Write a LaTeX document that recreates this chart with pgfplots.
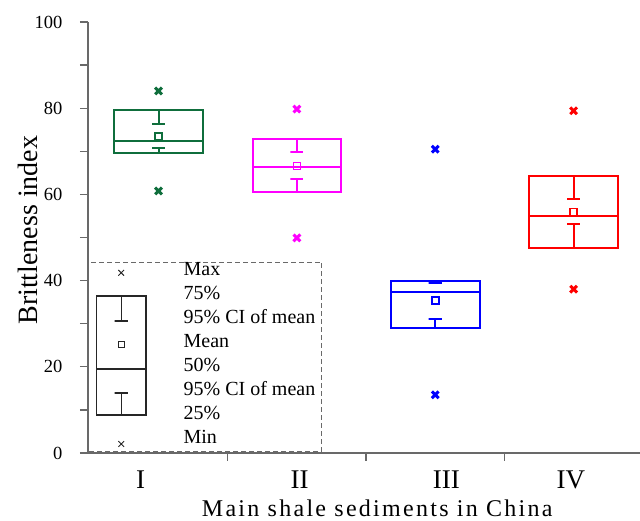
\documentclass[border=0pt]{standalone}
\usepackage{fontspec}
\setmainfont{Liberation Serif}
\usepackage{pgfplots}
\pgfplotsset{compat=1.18}

\definecolor{cI}{RGB}{15,110,60}
\definecolor{cII}{RGB}{255,0,255}
\definecolor{cIII}{RGB}{0,0,255}
\definecolor{cIV}{RGB}{255,0,0}
\definecolor{axgray}{RGB}{105,105,105}

\newcommand{\legfont}{\fontsize{20pt}{22pt}\selectfont}

\pgfplotsset{
  bx/.style={line width=2pt, line join=miter, mark=none},
  mn/.style={only marks, mark=square, mark size=3.5pt, line width=1.8pt},
  mx/.style={only marks, mark=x, mark size=4.8pt, line width=3pt},
  lbx/.style={black!85, line width=1.3pt, line join=miter, mark=none},
}

\begin{document}
\begin{tikzpicture}
\begin{axis}[
  scale only axis, width=552pt, height=431pt,
  xmin=0.49, xmax=4.48, ymin=0, ymax=100,
  clip=false,
  axis lines=left,
  axis line style={-, draw=axgray, line width=1.3pt},
  xtick={1.5,2.5,3.5}, xticklabels={},
  extra x ticks={0.87,2.02,3.08,3.98},
  extra x tick labels={I,II,III,IV},
  extra x tick style={tick style={draw=none}},
  ytick={0,20,...,100}, minor ytick={10,30,...,90},
  tick align=outside,
  major tick length=8pt, minor tick length=8pt,
  tick style={draw=axgray, line width=1.3pt},
  /pgf/number format/assume math mode=true,
  yticklabel style={font=\fontsize{18.5pt}{21pt}\selectfont, xshift=-14pt},
  xticklabel style={font=\fontsize{27pt}{29pt}\selectfont, yshift=-6pt},
  ylabel={Brittleness index},
  ylabel style={font=\fontsize{28pt}{30pt}\selectfont, at={(axis description cs:-0.109,0.517)}, anchor=center},
  xlabel={\addfontfeature{LetterSpace=9.5}Main shale sediments in China},
  xlabel style={font=\fontsize{24pt}{26pt}\selectfont, at={(axis description cs:0.524,0)}, anchor=base, inner sep=0pt, yshift=-64pt},
]
% ---- legend frame
\draw[axgray, line width=1pt, dash pattern=on 5pt off 3pt] (axis cs:0.495,0.3) rectangle (axis cs:2.18,44.3);

% ---- Group I: Q1 69.6, Q3 79.6, median 72.4, CI 70.8-76.3, mean 73.5, max 84.0, min 60.8
\addplot[cI, bx] coordinates {(0.68,72.4) (1.32,72.4) (1.32,79.6) (0.68,79.6) (0.68,69.6) (1.32,69.6) (1.32,72.4)};
\addplot[cI, bx] coordinates {(1,79.6) (1,76.3) (0.953,76.3) (1.047,76.3)};
\addplot[cI, bx] coordinates {(1,69.6) (1,70.8) (0.953,70.8) (1.047,70.8)};
\addplot[cI, mn] coordinates {(1,73.5)};
\addplot[cI, mx] coordinates {(1,84.0) (1,60.8)};

% ---- Group II: Q1 60.6, Q3 72.9, median 66.4, CI 63.6-69.8, mean 66.6, max 79.8, min 49.9
\addplot[cII, bx] coordinates {(1.68,66.4) (2.32,66.4) (2.32,72.9) (1.68,72.9) (1.68,60.6) (2.32,60.6) (2.32,66.4)};
\addplot[cII, bx] coordinates {(2,72.9) (2,69.8) (1.953,69.8) (2.047,69.8)};
\addplot[cII, bx] coordinates {(2,60.6) (2,63.6) (1.953,63.6) (2.047,63.6)};
\addplot[cII, mn] coordinates {(2,66.6)};
\addplot[cII, mx] coordinates {(2,79.8) (2,49.9)};

% ---- Group III: Q1 29.0, Q3 39.9, median 37.4, CI 31.1-39.5, mean 35.3, max 70.5, min 13.5
\addplot[cIII, bx] coordinates {(2.68,37.4) (3.32,37.4) (3.32,39.9) (2.68,39.9) (2.68,29.0) (3.32,29.0) (3.32,37.4)};
\addplot[cIII, bx] coordinates {(3,39.9) (3,39.5) (2.953,39.5) (3.047,39.5)};
\addplot[cIII, bx] coordinates {(3,29.0) (3,31.1) (2.953,31.1) (3.047,31.1)};
\addplot[cIII, mn] coordinates {(3,35.3)};
\addplot[cIII, mx] coordinates {(3,70.5) (3,13.5)};

% ---- Group IV: Q1 47.6, Q3 64.3, median 55.0, CI 53.1-58.9, mean 55.9, max 79.4, min 38.0
\addplot[cIV, bx] coordinates {(3.68,55.0) (4.32,55.0) (4.32,64.3) (3.68,64.3) (3.68,47.6) (4.32,47.6) (4.32,55.0)};
\addplot[cIV, bx] coordinates {(4,64.3) (4,58.9) (3.953,58.9) (4.047,58.9)};
\addplot[cIV, bx] coordinates {(4,47.6) (4,53.1) (3.953,53.1) (4.047,53.1)};
\addplot[cIV, mn] coordinates {(4,55.9)};
\addplot[cIV, mx] coordinates {(4,79.4) (4,38.0)};

% ---- legend sample
\addplot[lbx] coordinates {(0.55,19.5) (0.91,19.5) (0.91,36.4) (0.55,36.4) (0.55,8.8) (0.91,8.8) (0.91,19.5)};
\addplot[lbx] coordinates {(0.73,36.4) (0.73,30.6) (0.683,30.6) (0.777,30.6)};
\addplot[lbx] coordinates {(0.73,8.8) (0.73,13.9) (0.683,13.9) (0.777,13.9)};
\addplot[black!85, only marks, mark=square, mark size=3pt, line width=0.9pt] coordinates {(0.73,25.3)};
\addplot[black!85, only marks, mark=x, mark size=4pt, line width=0.9pt] coordinates {(0.73,41.8) (0.73,2.1)};

\node[anchor=mid west, font=\legfont, inner sep=0pt] at (axis cs:1.18,41.8) {Max};
\node[anchor=mid west, font=\legfont, inner sep=0pt] at (axis cs:1.18,36.2) {75\%};
\node[anchor=mid west, font=\legfont, inner sep=0pt] at (axis cs:1.18,30.6) {95\% CI of mean};
\node[anchor=mid west, font=\legfont, inner sep=0pt] at (axis cs:1.18,25.1) {Mean};
\node[anchor=mid west, font=\legfont, inner sep=0pt] at (axis cs:1.18,19.5) {50\%};
\node[anchor=mid west, font=\legfont, inner sep=0pt] at (axis cs:1.18,13.9) {95\% CI of mean};
\node[anchor=mid west, font=\legfont, inner sep=0pt] at (axis cs:1.18,8.4) {25\%};
\node[anchor=mid west, font=\legfont, inner sep=0pt] at (axis cs:1.18,2.8) {Min};
\end{axis}
\pgfresetboundingbox
\path[use as bounding box] (-88pt,-68pt) rectangle (552pt,453pt);
\end{tikzpicture}
\end{document}
